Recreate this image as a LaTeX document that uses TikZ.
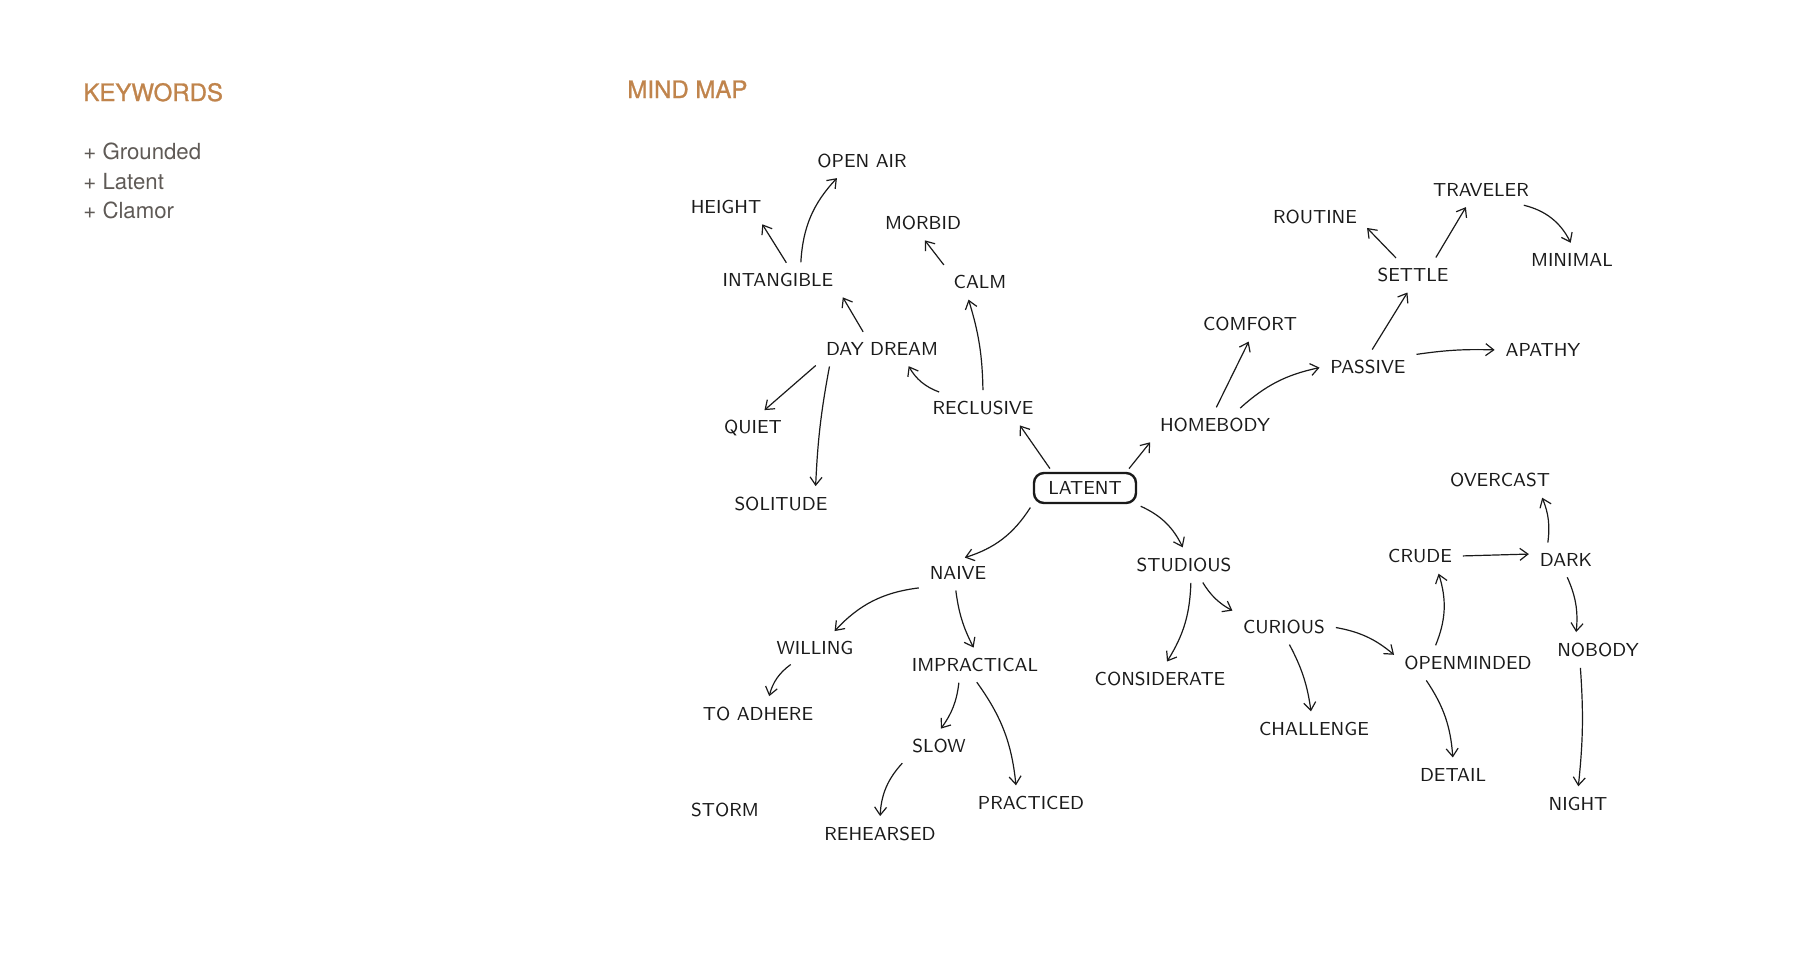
\documentclass[tikz,border=0pt]{standalone}
\usepackage{fontspec}
\usepackage{tikz}
\usetikzlibrary{arrows.meta}
\newfontfamily\headfont{TeX Gyre Heros}
\newfontfamily\headboldfont[FakeBold=1.2]{TeX Gyre Heros}
\definecolor{ochre}{HTML}{C0844C}
\definecolor{greytext}{HTML}{5F5A56}
\definecolor{ink}{HTML}{1A1A1A}
\tikzset{
  word/.style={font=\sffamily\fontsize{9.4}{11}\selectfont, text=ink, inner sep=2pt, outer sep=2pt},
  centre/.style={word, draw=ink, line width=1.2pt, rounded corners=5pt,
    minimum width=51pt, minimum height=15pt, outer sep=1pt},
  title/.style={font=\headboldfont\fontsize{12}{14}\selectfont, text=ochre, anchor=base west, inner sep=0pt},
  kw/.style={font=\headfont\fontsize{11.1}{13}\selectfont, text=greytext, anchor=base west, inner sep=0pt},
  arr/.style={-{Straight Barb[length=4pt,width=6pt]}, line width=0.6pt, draw=ink,
    shorten <=1.5pt, shorten >=1.5pt},
}

\begin{document}
\begin{tikzpicture}[x=0.5pt,y=0.5pt]
        \useasboundingbox (0,0) rectangle (1800,-960);
        % left column
        \node (keyw) [title] at (83,-101) {KEYWORDS};
        \node (kw1) [kw] at (83,-159) {+ Grounded};
        \node (kw2) [kw] at (83,-189) {+ Latent};
        \node (kw3) [kw] at (83,-218) {+ Clamor};
        \node (mmap) [title] at (627,-98) {MIND MAP};
        % words
        \node (lat) [centre] at (1085,-488) {LATENT};
        \node (opair) [word] at (862,-161) {OPEN AIR};
        \node (height) [word] at (726,-207) {HEIGHT};
        \node (morbid) [word] at (923,-223) {MORBID};
        \node (intg) [word] at (778,-280) {INTANGIBLE};
        \node (calm) [word] at (980,-282) {CALM};
        \node (dday) [word] at (882,-349) {DAY DREAM};
        \node (recl) [word] at (983,-408) {RECLUSIVE};
        \node (quiet) [word] at (753,-428) {QUIET};
        \node (solit) [word] at (781,-504) {SOLITUDE};
        \node (home) [word] at (1215,-425) {HOMEBODY};
        \node (comfort) [word] at (1250,-324) {COMFORT};
        \node (passive) [word] at (1368,-367) {PASSIVE};
        \node (apathy) [word] at (1543,-350) {APATHY};
        \node (settle) [word] at (1413,-275) {SETTLE};
        \node (routine) [word] at (1315,-217) {ROUTINE};
        \node (trav) [word] at (1481,-190) {TRAVELER};
        \node (minimal) [word] at (1572,-260) {MINIMAL};
        \node (naive) [word] at (958,-573) {NAIVE};
        \node (stud) [word] at (1184,-565) {STUDIOUS};
        \node (willing) [word] at (815,-648) {WILLING};
        \node (impr) [word] at (975,-665) {IMPRACTICAL};
        \node (toadh) [word] at (758,-714) {TO ADHERE};
        \node (slow) [word] at (939,-746) {SLOW};
        \node (storm) [word] at (725,-810) {STORM};
        \node (rehear) [word] at (880,-834) {REHEARSED};
        \node (pract) [word] at (1031,-803) {PRACTICED};
        \node (consid) [word] at (1160,-679) {CONSIDERATE};
        \node (curious) [word] at (1284,-627) {CURIOUS};
        \node (chall) [word] at (1314,-729) {CHALLENGE};
        \node (openm) [word] at (1468,-663) {OPENMINDED};
        \node (detail) [word] at (1453,-775) {DETAIL};
        \node (crude) [word] at (1420,-556) {CRUDE};
        \node (dark) [word] at (1566,-560) {DARK};
        \node (overc) [word] at (1500,-480) {OVERCAST};
        \node (nobody) [word] at (1598,-650) {NOBODY};
        \node (night) [word] at (1578,-804) {NIGHT};
        % arrows
        \draw (lat.153) edge [arr] (recl.-23);
        \draw (lat.22) edge [arr] (home.south west);
        \draw (lat.south west) edge [arr, bend left=20] (naive.75);
        \draw (lat.south east) edge [arr, bend left=20] (stud.north);
        \draw (recl.north) edge [arr, bend right=8] (calm.-130);
        \draw (recl.160) edge [arr, bend left=20] (dday.-30);
        \draw (calm.north west) edge [arr] (morbid.south);
        \draw (dday.140) edge [arr] (intg.south east);
        \draw (dday.south west) edge [arr] (quiet.60);
        \draw ([xshift=6pt]dday.south west) edge [arr, bend right=4] ([xshift=-10pt]solit.north east);
        \draw (intg.56) edge [arr] (height.-23);
        \draw (intg.33) edge [arr, bend left=20] (opair.-147);
        \draw (home.north) edge [arr] (comfort.south);
        \draw (home.33) edge [arr, bend left=15] (passive.west);
        \draw (passive.80) edge [arr] (settle.-105);
        \draw (passive.15) edge [arr, bend left=5] (apathy.west);
        \draw (settle.135) edge [arr] (routine.-10);
        \draw (settle.35) edge [arr] (trav.-133);
        \draw (trav.-20) edge [arr, bend left=25] (minimal.north);
        \draw (naive.south west) edge [arr, bend right=20] (willing.40);
        \draw (naive.-100) edge [arr, bend right=10] (impr.north);
        \draw (willing.-146) edge [arr, bend right=20] (toadh.55);
        \draw (impr.-137) edge [arr, bend left=15] (slow.north);
        \draw (impr.south) edge [arr, bend left=15] (pract.135);
        \draw (slow.south west) edge [arr, bend right=20] (rehear.north);
        \draw (stud.-65) edge [arr, bend left=15] (consid.70);
        \draw (stud.-41) edge [arr, bend right=15] (curious.north west);
        \draw (curious.-75) edge [arr, bend left=10] (chall.100);
        \draw (curious.east) edge [arr, bend left=15] (openm.175);
        \draw (openm.156) edge [arr, bend right=20] (crude.-40);
        \draw (openm.-161) edge [arr, bend left=15] (detail.north);
        \draw (crude.east) edge [arr] (dark.170);
        \draw (dark.142) edge [arr, bend right=15] (overc.-20);
        \draw (dark.south) edge [arr, bend left=15] (nobody.146);
        \draw (nobody.-140) edge [arr, bend left=5] (night.north);
\end{tikzpicture}
\end{document}
